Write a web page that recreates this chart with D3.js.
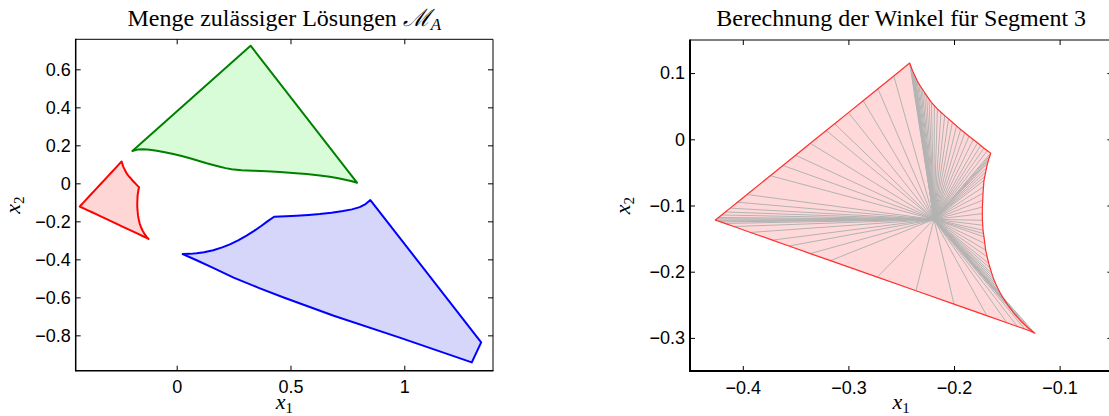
<!DOCTYPE html>
<html>
<head>
<meta charset="utf-8">
<script src="https://cdn.jsdelivr.net/npm/d3@7"></script>
<style>
  body { margin: 0; background: #fff; }
  svg { display: block; }
  .axis path.domain { stroke: none; }
  .axis .tick line { stroke: #000; stroke-width: 1; }
  .axis .tick text { font-family: "Liberation Sans", Arial, sans-serif; font-size: 18px; fill: #000; }
  .title { font-family: "Liberation Serif", serif; font-size: 24px; fill: #000; }
  .lab { font-family: "Liberation Serif", serif; font-size: 22px; fill: #000; }
</style>
</head>
<body>
<svg id="fig" width="1109" height="416"></svg>
<script>
// ── Data: segment 3 boundary (shared by both panels) ─────────────────────────
// curve A -> B
const segAB = [
  [-0.2420, 0.1152], [-0.2412, 0.1118], [-0.2404, 0.1086], [-0.2395, 0.1048],
  [-0.2385, 0.1011], [-0.2374, 0.0973], [-0.2363, 0.0935], [-0.2348, 0.0885],
  [-0.2332, 0.0836], [-0.2316, 0.0798], [-0.2300, 0.0760], [-0.2280, 0.0710],
  [-0.2259, 0.0660], [-0.2237, 0.0610], [-0.2214, 0.0559], [-0.2186, 0.0509],
  [-0.2157, 0.0459], [-0.2123, 0.0408], [-0.2088, 0.0358], [-0.2052, 0.0308],
  [-0.2015, 0.0258], [-0.1976, 0.0203], [-0.1937, 0.0148], [-0.1898, 0.0098],
  [-0.1858, 0.0047], [-0.1818, -0.0003], [-0.1778, -0.0053], [-0.1747, -0.0094],
  [-0.1716, -0.0134], [-0.1684, -0.0172]
];
// curve B -> C
const segBC = [
  [-0.1652, -0.0209], [-0.1660, -0.0249], [-0.1668, -0.0289], [-0.1676, -0.0329],
  [-0.1684, -0.0369], [-0.1692, -0.0432], [-0.1700, -0.0495], [-0.1708, -0.0558],
  [-0.1716, -0.0620], [-0.1721, -0.0718], [-0.1725, -0.0816], [-0.1728, -0.0920],
  [-0.1731, -0.1023], [-0.1732, -0.1123], [-0.1731, -0.1223], [-0.1728, -0.1298],
  [-0.1725, -0.1373], [-0.1721, -0.1424], [-0.1716, -0.1474], [-0.1708, -0.1575],
  [-0.1700, -0.1675], [-0.1686, -0.1775], [-0.1671, -0.1875], [-0.1657, -0.1948],
  [-0.1643, -0.2021], [-0.1632, -0.2074], [-0.1621, -0.2127], [-0.1604, -0.2187],
  [-0.1586, -0.2247], [-0.1564, -0.2313], [-0.1541, -0.2378], [-0.1516, -0.2441],
  [-0.1491, -0.2503], [-0.1461, -0.2566], [-0.1431, -0.2628], [-0.1400, -0.2686],
  [-0.1368, -0.2744], [-0.1335, -0.2793], [-0.1302, -0.2842], [-0.1268, -0.2886]
];
// straight edge C -> D
const segCD = [
  [-0.1235, -0.2929], [-0.1280, -0.2895], [-0.1330, -0.2866], [-0.1400, -0.2827],
  [-0.1500, -0.2771], [-0.1690, -0.2664], [-0.2000, -0.2490], [-0.2360, -0.2288],
  [-0.2726, -0.2082], [-0.3170, -0.1833], [-0.3360, -0.1726], [-0.3563, -0.1612],
  [-0.3720, -0.1523], [-0.3927, -0.1407], [-0.4085, -0.1318], [-0.4170, -0.1271],
  [-0.4210, -0.1248], [-0.4235, -0.1234]
];
// straight edge D -> A
const segDA = [
  [-0.4260, -0.1220], [-0.4245, -0.1201], [-0.4230, -0.1181], [-0.4200, -0.1143],
  [-0.4165, -0.1098], [-0.4120, -0.1040], [-0.4050, -0.0950], [-0.3960, -0.0834],
  [-0.3740, -0.0550], [-0.3620, -0.0396], [-0.3500, -0.0241], [-0.3360, -0.0061],
  [-0.3210, 0.0132], [-0.3130, 0.0235], [-0.3000, 0.0403], [-0.2860, 0.0583],
  [-0.2720, 0.0763], [-0.2570, 0.0957]
];
// common point of the angle rays
const seg3Hub = [-0.219, -0.121];

// other two regions of the left panel
const greenRegion = [
  [-0.1947, 0.1700], [0.3246, 0.7242], [0.7921, 0.0032], [0.7700, 0.0110],
  [0.7456, 0.0174], [0.7100, 0.0270], [0.6724, 0.0347], [0.6200, 0.0425],
  [0.5702, 0.0489], [0.5100, 0.0545], [0.4531, 0.0595], [0.3950, 0.0632],
  [0.3360, 0.0663], [0.2850, 0.0695], [0.2412, 0.0737], [0.2150, 0.0800],
  [0.1899, 0.0874], [0.1600, 0.0965], [0.1316, 0.1053], [0.0950, 0.1190],
  [0.0583, 0.1316], [0.0220, 0.1437], [-0.0149, 0.1542], [-0.0520, 0.1640],
  [-0.0877, 0.1716], [-0.1180, 0.1765], [-0.1465, 0.1790], [-0.1720, 0.1775]
];
const blueRegion = [
  [0.0263, -0.3721], [0.0600, -0.3712], [0.0877, -0.3684], [0.1200, -0.3627],
  [0.1605, -0.3520], [0.2000, -0.3370], [0.2338, -0.3210], [0.2700, -0.3000],
  [0.3070, -0.2750], [0.3400, -0.2500], [0.3728, -0.2230], [0.4000, -0.1990],
  [0.4281, -0.1758], [0.4800, -0.1735], [0.5263, -0.1705], [0.5800, -0.1665],
  [0.6285, -0.1616], [0.6800, -0.1545], [0.7307, -0.1458], [0.7700, -0.1370],
  [0.8039, -0.1250], [0.8300, -0.1090], [0.8509, -0.0879], [1.3377, -0.8368],
  [1.2965, -0.9421], [0.9800, -0.8120], [0.6900, -0.6970], [0.4700, -0.6010],
  [0.3600, -0.5500], [0.2500, -0.4960], [0.1600, -0.4450], [0.0900, -0.4060]
];

// ticks
const leftXTicks = [0, 0.5, 1];
const leftYTicks = [-0.8, -0.6, -0.4, -0.2, 0, 0.2, 0.4, 0.6];
const rightXTicks = [-0.4, -0.3, -0.2, -0.1];
const rightYTicks = [-0.3, -0.2, -0.1, 0, 0.1];

const svg = d3.select('#fig');
const fmt = d => d < 0 ? '\u2212' + String(-d) : String(d);

const seg3 = segAB.concat(segBC, segCD, segDA);

function makePanel(o) {
  const x = d3.scaleLinear().domain(o.xDom).range([o.left, o.right]);
  const y = d3.scaleLinear().domain(o.yDom).range([o.bottom, o.top]);
  return { x, y, o };
}

function drawAxes(p, xTicks, yTicks, spineW) {
  const { x, y, o } = p;
  svg.append('g').attr('class', 'axis').attr('transform', `translate(0,${o.bottom})`)
    .call(d3.axisBottom(x).tickValues(xTicks).tickFormat(fmt).tickSizeInner(-5).tickSizeOuter(0).tickPadding(10));
  svg.append('g').attr('class', 'axis').attr('transform', `translate(0,${o.top})`)
    .call(d3.axisTop(x).tickValues(xTicks).tickFormat('').tickSizeInner(-5).tickSizeOuter(0));
  svg.append('g').attr('class', 'axis').attr('transform', `translate(${o.left},0)`)
    .call(d3.axisLeft(y).tickValues(yTicks).tickFormat(fmt).tickSizeInner(-5).tickSizeOuter(0).tickPadding(5));
  svg.append('g').attr('class', 'axis').attr('transform', `translate(${o.right},0)`)
    .call(d3.axisRight(y).tickValues(yTicks).tickFormat('').tickSizeInner(-5).tickSizeOuter(0));

  // box
  const line = (x1, y1, x2, y2, w) => svg.append('line')
    .attr('x1', x1).attr('y1', y1).attr('x2', x2).attr('y2', y2)
    .attr('stroke', '#000').attr('stroke-width', w);
  line(o.left, o.top, o.right, o.top, 1);
  line(o.right, o.top, o.right, o.bottom, 1);
  line(o.left, o.bottom, o.right + 0.5, o.bottom, spineW);
  line(o.left, o.top - 0.5, o.left, o.bottom + spineW / 2, spineW);

  // titles / labels
  const cx = (o.left + o.right) / 2;
  const cy = (o.top + o.bottom) / 2;
  const t = svg.append('text').attr('class', 'title').attr('x', cx).attr('y', 26)
    .attr('text-anchor', 'middle');
  o.title(t);

  const xl = svg.append('text').attr('class', 'lab').attr('x', cx).attr('y', 409)
    .attr('text-anchor', 'middle');
  xl.append('tspan').attr('font-style', 'italic').text('x');
  xl.append('tspan').attr('font-size', 15).attr('dy', 4).text('1');

  const yl = svg.append('text').attr('class', 'lab')
    .attr('transform', `translate(${o.ylabX},${cy}) rotate(-90)`)
    .attr('text-anchor', 'middle');
  yl.append('tspan').attr('font-style', 'italic').text('x');
  yl.append('tspan').attr('font-size', 15).attr('dy', 4).text('2');
}

function polygon(p, pts, fill, stroke, w) {
  const gen = d3.line().x(d => p.x(d[0])).y(d => p.y(d[1]));
  svg.append('path').attr('d', gen(pts) + 'Z')
    .attr('fill', fill).attr('stroke', stroke).attr('stroke-width', w)
    .attr('stroke-linejoin', 'round');
}

// ── Left panel ───────────────────────────────────────────────────────────────
const L = makePanel({
  left: 75.7, right: 493, top: 39.3, bottom: 370.7,
  xDom: [-0.4437, 1.3897], yDom: [-0.986, 0.758], ylabX: 20,
  title: t => {
    t.append('tspan').text('Menge zulässiger Lösungen ');
    t.append('tspan').attr('font-family', '"DejaVu Serif", serif').attr('font-style', 'italic').text('\u2133');
    t.append('tspan').attr('font-style', 'italic').attr('font-size', 17).attr('dy', 4).text('A');
  }
});
polygon(L, greenRegion, '#d8fcd8', '#008000', 2);
polygon(L, blueRegion, '#d6d6fb', '#0000ff', 2);
polygon(L, seg3, '#ffd6d6', '#ff0000', 2);
drawAxes(L, leftXTicks, leftYTicks, 1.5);

// ── Right panel ──────────────────────────────────────────────────────────────
const R = makePanel({
  left: 690, right: 1112.4, top: 40, bottom: 371,
  xDom: [-0.45, -0.05], yDom: [-0.35, 0.15], ylabX: 630,
  title: t => t.text('Berechnung der Winkel für Segment 3')
});
polygon(R, seg3, '#ffd9d9', 'none', 0);
svg.append('g').selectAll('line').data(seg3).join('line')
  .attr('x1', R.x(seg3Hub[0])).attr('y1', R.y(seg3Hub[1]))
  .attr('x2', d => R.x(d[0])).attr('y2', d => R.y(d[1]))
  .attr('stroke', '#b3b3b3').attr('stroke-width', 1);
polygon(R, seg3, 'none', '#ff3030', 1.2);
drawAxes(R, rightXTicks, rightYTicks, 2);
</script>
</body>
</html>
